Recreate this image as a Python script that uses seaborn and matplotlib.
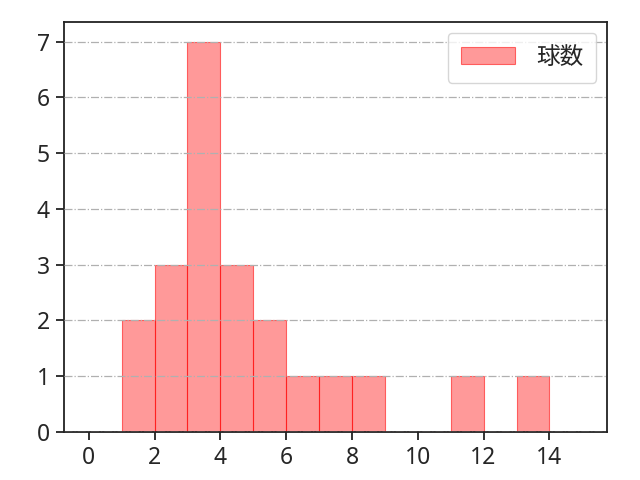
import matplotlib
matplotlib.use("Agg")
import matplotlib.pyplot as plt
import seaborn as sns
import pandas as pd

sns.set_style("ticks")
plt.rcParams['font.family'] = ['Noto Sans', 'Noto Sans CJK JP', 'DejaVu Sans']

pitch_values = [1, 1, 2, 2, 2, 3, 3, 3, 3, 3, 3, 3, 4, 4, 4, 5, 5, 6, 7, 8, 11, 13]
bin_edges = list(range(0, 16))
label = "球数"

df = pd.DataFrame({label: pitch_values})

fig = plt.figure(figsize=(6.4, 4.8), dpi=100)
ax = fig.add_axes([64/640, 48/480, (607-64)/640, (432-22)/480])
sns.histplot(data=df, x=label, bins=bin_edges, color="red", alpha=0.4,
             edgecolor=(1, 0, 0, 0.55), linewidth=0.8, label=label, ax=ax)
ax.set_xlabel("")
ax.set_ylabel("")
ax.set_xticks(range(0, 16, 2))
ax.set_yticks(range(0, 8))
ax.tick_params(labelsize=16.5, width=1.3, length=6, pad=4, color="#222222")
ax.set_axisbelow(False)
ax.yaxis.grid(True, linestyle="-.", color="#b0b0b0", linewidth=0.9)
for sp in ax.spines.values():
    sp.set_visible(True)
    sp.set_color("#222222")
    sp.set_linewidth(1.3)
ax.legend(loc="upper right", fontsize=17, handlelength=2.3, borderpad=0.55,
          handletextpad=0.9, borderaxespad=0.45)
fig.savefig("out.png")
